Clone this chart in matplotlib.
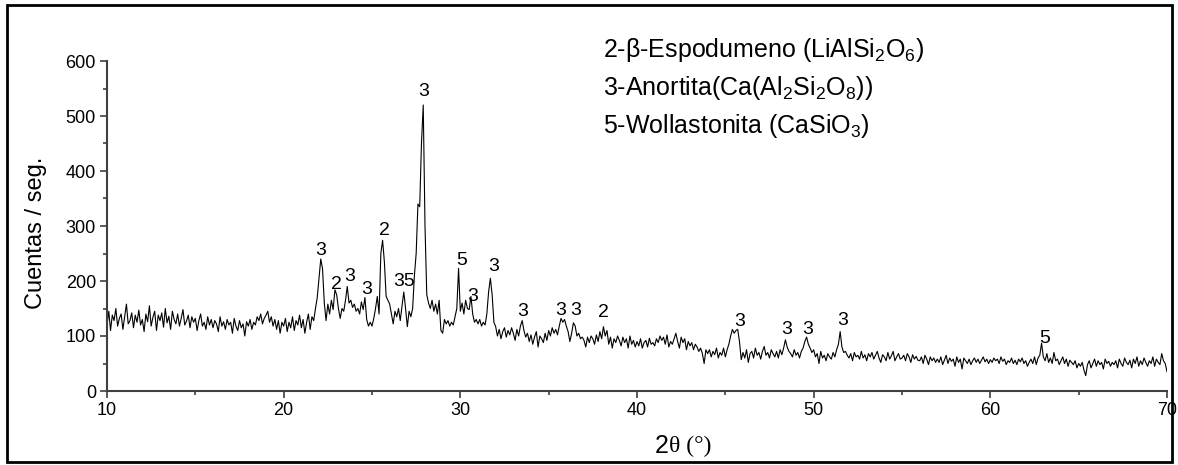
import numpy as np
import matplotlib.pyplot as plt
from matplotlib.patches import Rectangle
from matplotlib.ticker import MultipleLocator

plt.rcParams['font.family'] = ['Liberation Sans', 'DejaVu Sans']

# barrido 2theta: inicio y paso
x_start = 10.0
x_step = 0.1

# cuentas leidas por tramos de 10 grados (paso 0.1)
cnt_10_20 = [120, 145, 110, 138, 128, 150, 118, 132, 140, 112,
             135, 158, 122, 128, 142, 115, 138, 125, 147, 120,
             130, 108, 140, 126, 155, 118, 134, 145, 110, 138,
             128, 142, 116, 150, 124, 136, 112, 145, 130, 122,
             140, 118, 132, 148, 120, 127, 138, 115, 135, 125,
             132, 110, 128, 140, 118, 125, 112, 135, 120, 130,
             115, 128, 122, 108, 135, 118, 126, 112, 130, 120,
             125, 105, 132, 118, 110, 128, 115, 122, 100, 126,
             118, 130, 112, 125, 120, 135, 128, 140, 122, 132,
             138, 145, 125, 135, 118, 130, 112, 128, 105, 125]
cnt_20_30 = [118, 132, 108, 125, 115, 135, 110, 128, 120, 138,
             115, 130, 105, 125, 140, 112, 135, 128, 150, 170,
             205, 240, 222, 160, 128, 158, 140, 165, 148, 184,
             175, 150, 132, 150, 145, 165, 190, 160, 165, 152,
             158, 145, 150, 140, 162, 148, 170, 130, 118, 125,
             118, 132, 150, 172, 140, 250, 274, 235, 172, 165,
             158, 140, 122, 145, 135, 150, 128, 155, 180, 150,
             117, 145, 135, 150, 210, 250, 340, 335, 450, 520,
             300, 175, 160, 150, 165, 145, 158, 140, 165, 110,
             105, 130, 122, 128, 118, 125, 120, 135, 150, 223]
cnt_30_40 = [145, 160, 140, 165, 150, 148, 172, 140, 125, 130,
             122, 130, 118, 125, 120, 140, 180, 205, 175, 125,
             117, 100, 112, 95, 108, 115, 98, 110, 102, 115,
             105, 92, 112, 100, 118, 128, 110, 98, 105, 90,
             102, 85, 98, 108, 80, 100, 95, 88, 105, 92,
             110, 100, 115, 105, 112, 102, 118, 132, 125, 130,
             118, 108, 90, 105, 124, 118, 100, 105, 95, 98,
             92, 80, 98, 88, 100, 95, 85, 102, 90, 108,
             95, 117, 100, 110, 85, 98, 78, 95, 88, 100,
             92, 82, 98, 88, 95, 78, 100, 85, 92, 80]
cnt_40_50 = [90, 82, 95, 78, 88, 92, 80, 96, 85, 88,
             82, 95, 88, 100, 92, 98, 85, 102, 80, 90,
             85, 95, 105, 90, 78, 98, 88, 95, 75, 90,
             82, 88, 75, 85, 80, 72, 78, 68, 50, 75,
             68, 75, 62, 72, 66, 78, 60, 70, 65, 78,
             62, 75, 85, 100, 112, 105, 110, 112, 90, 57,
             70, 60, 75, 52, 68, 72, 60, 78, 65, 70,
             58, 72, 81, 65, 70, 60, 75, 68, 62, 72,
             60, 75, 66, 78, 93, 80, 72, 68, 62, 75,
             65, 70, 60, 72, 78, 90, 98, 85, 78, 70]
cnt_50_60 = [75, 62, 68, 50, 72, 60, 65, 55, 68, 62,
             58, 70, 62, 75, 85, 108, 80, 70, 72, 65,
             60, 68, 55, 70, 62, 65, 58, 72, 60, 66,
             55, 68, 62, 70, 58, 65, 72, 60, 52, 66,
             62, 55, 70, 58, 64, 72, 55, 62, 68, 58,
             60, 65, 55, 68, 62, 52, 66, 58, 63, 56,
             55, 62, 50, 65, 58, 48, 62, 55, 60, 52,
             58, 52, 62, 48, 56, 65, 50, 60, 54, 58,
             45, 62, 52, 58, 40, 60, 55, 50, 58, 48,
             55, 60, 52, 58, 50, 56, 62, 53, 58, 50]
cnt_60_70 = [57, 52, 60, 55, 58, 50, 62, 54, 58, 48,
             55, 52, 60, 50, 56, 48, 58, 53, 60, 50,
             55, 45, 52, 58, 50, 62, 48, 60, 65, 87,
             62, 55, 68, 52, 60, 50, 70, 55, 58, 48,
             55, 62, 50, 58, 45, 56, 52, 48, 55, 42,
             50, 45, 52, 38, 28, 48, 55, 42, 50, 58,
             45, 55, 48, 52, 40, 58, 50, 54, 45, 52,
             48, 55, 42, 58, 50, 45, 60, 52, 48, 56,
             42, 58, 50, 62, 45, 55, 48, 60, 52, 45,
             55, 50, 62, 45, 58, 52, 48, 68, 55, 50,
             35]

# etiquetas de fases sobre los picos
peak_x = [22.1, 22.96, 23.73, 24.67, 25.69, 26.79, 27.92, 30.1, 30.72, 31.89,
          33.53, 35.7, 36.55, 38.08, 45.83, 48.45, 49.64, 51.62, 63.05]
peak_y = [256, 194, 208, 185, 291, 199, 544, 238, 171, 226,
          144, 146, 146, 142, 126, 112, 112, 129, 96]
peak_lbl = ['3', '2', '3', '3', '2', '35', '3', '5', '3', '3',
            '3', '3', '3', '2', '3', '3', '3', '3', '5']

fases = [r'2-β-Espodumeno (LiAlSi$_\mathregular{2}$O$_\mathregular{6}$)',
         r'3-Anortita(Ca(Al$_\mathregular{2}$Si$_\mathregular{2}$O$_\mathregular{8}$))',
         r'5-Wollastonita (CaSiO$_\mathregular{3}$)']

y = np.array(cnt_10_20 + cnt_20_30 + cnt_30_40 + cnt_40_50 + cnt_50_60 + cnt_60_70)
x = x_start + x_step * np.arange(len(y))

fig = plt.figure(figsize=(11.78, 4.65), dpi=100)
ax = fig.add_axes([107 / 1178, 1 - 391 / 465, 1060 / 1178, 330 / 465])

ax.plot(x, y, color='black', lw=0.8)
for xi, yi, t in zip(peak_x, peak_y, peak_lbl):
    ax.text(xi, yi, t, ha='center', va='center', fontsize=14)

ax.set_xlim(10, 70)
ax.set_ylim(0, 600)
ax.xaxis.set_major_locator(MultipleLocator(10))
ax.xaxis.set_minor_locator(MultipleLocator(5))
ax.yaxis.set_major_locator(MultipleLocator(100))
ax.yaxis.set_minor_locator(MultipleLocator(50))
for s in ['top', 'right']:
    ax.spines[s].set_visible(False)
for s in ['left', 'bottom']:
    ax.spines[s].set_color('#404040')
    ax.spines[s].set_linewidth(1.5)
ax.tick_params(which='major', direction='out', length=5, width=1.2, color='#404040',
               labelsize=13, pad=3)
ax.tick_params(which='minor', direction='out', length=3, width=1.2, color='#404040')

ax.set_ylabel('Cuentas / seg.', fontsize=17)
ax.yaxis.set_label_coords(-0.057, 0.48)

# etiqueta eje x: "2" en sans, theta y grados en serif
fig.text(669 / 1178, 1 - 446 / 465, '2', fontsize=18, ha='right', va='center')
fig.text(669 / 1178, 1 - 446 / 465, 'θ (°)', fontsize=17, ha='left', va='center',
         family=['Liberation Serif', 'DejaVu Serif'])

for i, f in enumerate(fases):
    fig.text(603 / 1178, 1 - (50 + 38 * i) / 465, f, fontsize=18, ha='left', va='center')

fig.patches.append(Rectangle((7 / 1178, 3 / 465), 1165 / 1178, 457 / 465,
                             transform=fig.transFigure, fill=False,
                             edgecolor='black', lw=2))

fig.savefig('out.png', dpi=100)
